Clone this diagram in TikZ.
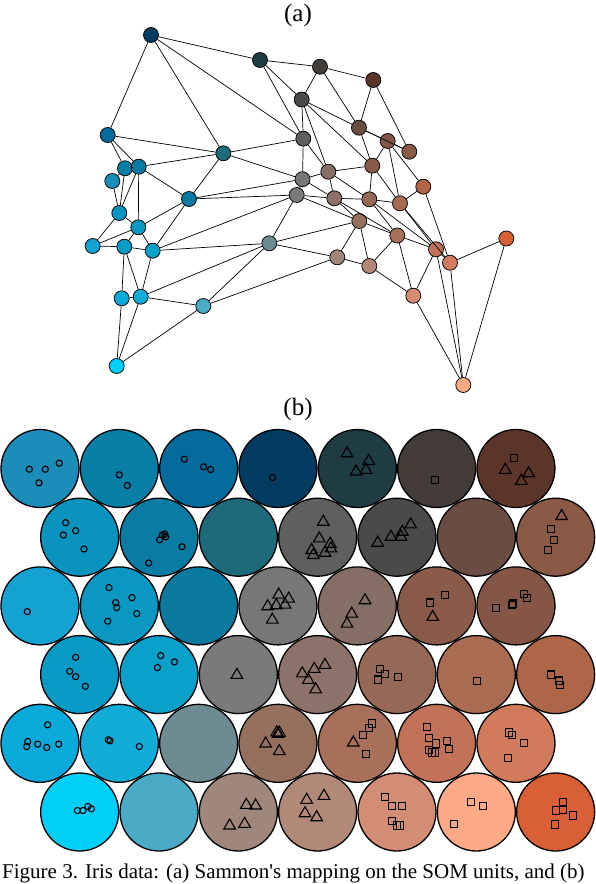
\documentclass[tikz,border=0pt]{standalone}
\usepackage{fontspec}
\setmainfont{Liberation Serif}
\usetikzlibrary{calc}
% unit colours, row r / column c
\definecolor{col01}{HTML}{1C8CB8}\definecolor{col02}{HTML}{0A7FA6}\definecolor{col03}{HTML}{056A9C}\definecolor{col04}{HTML}{033C60}\definecolor{col05}{HTML}{1F3C45}\definecolor{col06}{HTML}{433B37}\definecolor{col07}{HTML}{5C352A}
\definecolor{col11}{HTML}{0A93BE}\definecolor{col12}{HTML}{0A7BA3}\definecolor{col13}{HTML}{1F6A7A}\definecolor{col14}{HTML}{5F5F5F}\definecolor{col15}{HTML}{4A4A48}\definecolor{col16}{HTML}{6B4C42}\definecolor{col17}{HTML}{8A5A47}
\definecolor{col21}{HTML}{14A2D2}\definecolor{col22}{HTML}{0A97C2}\definecolor{col23}{HTML}{0B7A9E}\definecolor{col24}{HTML}{777777}\definecolor{col25}{HTML}{846E66}\definecolor{col26}{HTML}{8A5B4A}\definecolor{col27}{HTML}{855545}
\definecolor{col31}{HTML}{0A9AC6}\definecolor{col32}{HTML}{0AA0C9}\definecolor{col33}{HTML}{7A7A7A}\definecolor{col34}{HTML}{8C7268}\definecolor{col35}{HTML}{966858}\definecolor{col36}{HTML}{A96C52}\definecolor{col37}{HTML}{AE6548}
\definecolor{col41}{HTML}{0BAADA}\definecolor{col42}{HTML}{12ACD8}\definecolor{col43}{HTML}{6E8A92}\definecolor{col44}{HTML}{96705F}\definecolor{col45}{HTML}{A8705A}\definecolor{col46}{HTML}{C27259}\definecolor{col47}{HTML}{D27B5C}
\definecolor{col51}{HTML}{00CFFA}\definecolor{col52}{HTML}{4AABC6}\definecolor{col53}{HTML}{A0877C}\definecolor{col54}{HTML}{B28878}\definecolor{col55}{HTML}{D48D75}\definecolor{col56}{HTML}{FCAA86}\definecolor{col57}{HTML}{D95F36}

\begin{document}
\begin{tikzpicture}[
  x=1pt, y=-1pt,
  cell/.style={circle, draw, line width=1.3pt, minimum size=78, inner sep=0pt},
  unit/.style={circle, draw, line width=0.75pt, minimum size=15, inner sep=0pt},
  link/.style={line width=0.7pt},
  markline/.style={line width=1.1pt},
  pics/setosa/.style={code={\draw[markline] (0,0) circle (3.1);}},
  pics/versi/.style={code={\draw[markline, line join=miter] (-5.8,4.5) -- (5.8,4.5) -- (0,-5.5) -- cycle;}},
  pics/virgi/.style={code={\draw[markline] (-3.6,-3.6) rectangle (3.6,3.6);}},
  label/.style={font=\fontsize{25}{28}\selectfont}
]
\useasboundingbox (0,0) rectangle (596,884);

% (a) Sammon's mapping
\node[label] (lbla) at (298,15) {(a)};
\foreach \r/\c/\x/\y in {
  0/1/112.3/181, 0/2/125/168.3, 0/3/107.7/135, 0/4/151/35, 0/5/260/60, 0/6/320/66.7, 0/7/373.3/80,
  1/1/119.3/213, 1/2/138.7/166.7, 1/3/223.3/153.3, 1/4/303.3/138.7, 1/5/301.7/99.5, 1/6/359/127.7, 1/7/409.3/151.7,
  2/1/92.7/246, 2/2/138.3/227.3, 2/3/189/199, 2/4/302.5/179.2, 2/5/328.3/171.7, 2/6/372.3/165.7, 2/7/387.7/141,
  3/1/124.3/246.7, 3/2/152.7/250.7, 3/3/296.7/195, 3/4/334.3/198.3, 3/5/369.3/199.3, 3/6/400/203.3, 3/7/423.3/186.7,
  4/1/121.7/298.3, 4/2/140.7/296.7, 4/3/269.3/243.3, 4/4/359.3/221, 4/5/397.3/235.5, 4/6/436/249.3, 4/7/450/262.7,
  5/1/116.7/366, 5/2/203.3/306, 5/3/337.3/257.3, 5/4/369.3/266, 5/5/413.3/295.7, 5/6/463.3/385, 5/7/506.3/238.5}
  \node[unit, fill=col\r\c] (unit\r\c) at (\x,\y) {};
% neighbours on the hexagonal grid
\foreach \r in {0,...,5}
  \foreach \c in {1,...,6} {
    \pgfmathtruncatemacro\d{\c+1}
    \draw[link] (unit\r\c) -- (unit\r\d);
  }
\foreach \r in {0,...,4}
  \foreach \c in {1,...,7} {
    \pgfmathtruncatemacro\s{\r+1}
    \pgfmathtruncatemacro\d{\c+1-2*mod(\r+1,2)}
    \draw[link] (unit\r\c) -- (unit\s\c);
    \ifnum\d>0 \ifnum\d<8 \draw[link] (unit\r\c) -- (unit\s\d); \fi\fi
  }

% (b) SOM units with the samples
\node[label] (lblb) at (298,409) {(b)};
\foreach \r in {0,...,5}
  \foreach \c in {1,...,7} {
    \pgfmathsetmacro\cx{40+79.33*(\c-1)+39.67*mod(\r,2)}
    \pgfmathsetmacro\cy{468.5+68.7*\r}
    \node[cell, fill=col\r\c] (cell\r\c) at (\cx,\cy) {};
  }
\foreach \n/\kind/\dx/\dy in {
  01/setosa/-10.7/0.7, 01/setosa/5.3/0.7, 01/setosa/19.3/-5.3, 01/setosa/-1/14.3,
  02/setosa/0/6.3, 02/setosa/8/17,
  03/setosa/-14.4/-9.3, 03/setosa/5/-1.7, 03/setosa/12/1,
  04/setosa/-5.3/9,
  05/versi/-10.3/-16.3, 05/versi/11.4/-8.7, 05/versi/-1.3/2, 05/versi/8.7/0.3,
  06/virgi/-1.7/11.3,
  07/virgi/-2/-10.3, 07/versi/-10.7/0.3, 07/versi/12.7/3.7, 07/versi/5.3/11.3,
  11/setosa/-14/-14.5, 11/setosa/-4/-6.5, 11/setosa/-16.3/-2.2, 11/setosa/4.3/11.8,
  12/setosa/0.7/2.5, 12/setosa/3.4/-2.2, 12/setosa/5.7/-3.2, 12/setosa/6.7/-0.5, 12/setosa/23/9.5, 12/setosa/-10.3/25.8,
  14/versi/5.6/-16.5, 14/versi/1.6/0.2, 14/versi/12.6/5.5, 14/versi/13.3/10.2, 14/versi/7.3/14.5, 14/versi/-6/11.8, 14/versi/-4.4/16.8,
  15/versi/-19.3/4.5, 15/versi/-6/-1.5, 15/versi/4/-1.5, 15/versi/5.3/-6.5, 15/versi/13.7/-13.8,
  17/versi/6/-22.2, 17/virgi/-4.7/-8.2, 17/virgi/-1.4/2.8, 17/virgi/-8/12.8,
  21/setosa/-12.7/5.7,
  22/setosa/-10.3/-18.3, 22/setosa/12.7/-8.3, 22/setosa/-3.6/-3.3, 22/setosa/-2.6/1.7, 22/setosa/17.4/7.7, 22/setosa/-11.6/15.3,
  24/versi/0.7/-12.3, 24/versi/10.7/-8.3, 24/versi/-10.3/-0.7, 24/versi/-1.7/-1.7, 24/versi/7/-2.3, 24/versi/-5.7/12.7,
  25/versi/7.7/-6.7, 25/versi/-5.6/6.7, 25/versi/-10.3/16.7,
  26/virgi/-6.7/-3.3, 26/virgi/8.6/-10.7, 26/versi/-4/10,
  27/virgi/-20/2.3, 27/virgi/-4/-0.7, 27/virgi/-3.3/-2.3, 27/virgi/7.7/-11.7, 27/virgi/11/-7.7,
  31/setosa/-4/-17.3, 31/setosa/-10/-3.3, 31/setosa/-4/2, 31/setosa/5.7/11.7,
  32/setosa/1.7/-19, 32/setosa/15.4/-12.7, 32/setosa/-1.6/-7,
  33/versi/-1.4/-0.7,
  34/versi/7.3/-10.7, 34/versi/-3.4/-6.7, 34/versi/-15.4/-2.3, 34/versi/-9.4/4.3, 34/versi/-2/13.7,
  35/virgi/-16.7/-5.7, 35/virgi/-12/-0.7, 35/virgi/-19.3/5, 35/virgi/1.3/2.7,
  36/virgi/0.4/6.7,
  37/virgi/-4.7/0, 37/virgi/3.6/6, 37/virgi/4.6/10.3,
  41/setosa/7.7/-18.5, 41/setosa/-12.3/-1.8, 41/setosa/-13.3/3.2, 41/setosa/-2.3/0.8, 41/setosa/6.7/4.2, 41/setosa/18.7/0.8,
  42/setosa/-11/-3.5, 42/setosa/-9.3/-2.5, 42/setosa/20/3.2,
  44/versi/-1.3/-12, 44/versi/0/-10.5, 44/versi/1.5/-11.5, 44/versi/-12.3/-0.8, 44/versi/1.3/6.8,
  45/virgi/14.7/-19.8, 45/virgi/11.4/-15.2, 45/virgi/5.4/-8.2, 45/virgi/8.7/10.8, 45/versi/-4/-1.8,
  46/virgi/-10/-16.5, 46/virgi/-7.4/-5.2, 46/virgi/-0.7/0.2, 46/virgi/10/-2.5, 46/virgi/12.6/5.8, 46/virgi/-8/6.5, 46/virgi/-4.7/9.2, 46/virgi/-1.4/9.2,
  47/virgi/-6.7/-10.8, 47/virgi/-4/-8.2, 47/virgi/8.3/-0.2, 47/virgi/-8.3/14.8,
  51/setosa/-2.3/-1.5, 51/setosa/3.3/-1.5, 51/setosa/8.3/-5.5, 51/setosa/11.7/-3.2,
  53/versi/8/-8.2, 53/versi/17.3/-7.5, 53/versi/-8.7/12.5, 53/versi/6.3/10.8,
  54/versi/6.3/-17.2, 54/versi/-11/-13.2, 54/versi/-12.7/0.2, 54/versi/-1/4.2,
  55/virgi/-12/-14.8, 55/virgi/-5.3/-5.8, 55/virgi/5.3/-5.8, 55/virgi/-5.3/9.2, 55/virgi/-0.3/13.5, 55/virgi/3/13.5,
  56/virgi/-5.3/-9.8, 56/virgi/6.4/-6.2, 56/virgi/-22/11.8,
  57/virgi/7.6/-9.8, 57/virgi/7.6/-2.2, 57/virgi/0.3/-1.5, 57/virgi/17.6/3.5, 57/virgi/-0.7/12.5}
  \pic at ($(cell\n)+(\dx,\dy)$) {\kind};

% caption
\node[anchor=base west, inner sep=0pt, font=\fontsize{21}{24}\selectfont] (caption) at (2,878.5)
  {Figure 3. Iris data: (a) Sammon\textquotesingle s mapping on the SOM units, and (b)};
\end{tikzpicture}
\end{document}
